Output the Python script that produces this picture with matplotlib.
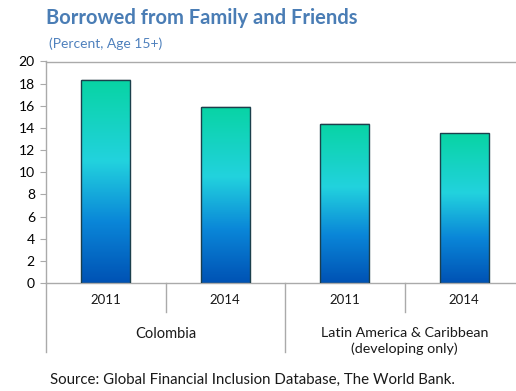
import matplotlib
matplotlib.use("Agg")
import matplotlib.pyplot as plt
import matplotlib.transforms as mtransforms
from matplotlib.colors import LinearSegmentedColormap
import numpy as np

# datos
years = ["2011", "2014", "2011", "2014"]
groups = ["Colombia", "Latin America & Caribbean\n(developing only)"]
values = [18.3, 15.9, 14.4, 13.5]
yticks = list(range(0, 21, 2))

plt.rcParams['font.family'] = ['Lato', 'DejaVu Sans']

fig = plt.figure(figsize=(5.16, 3.91), dpi=100)
ax = fig.add_axes([46 / 516, 108 / 391, 478 / 516, 221.5 / 391])

# gradiente azul -> cian -> verde
cmap = LinearSegmentedColormap.from_list("barra", [
    (0.0, "#0052B4"),
    (0.30, "#0A86D8"),
    (0.60, "#22D2DE"),
    (1.0, "#08D4A4"),
])

x = np.arange(len(values))
bars = ax.bar(x, values, width=0.41, facecolor="none", edgecolor="#1B3F4C",
              linewidth=1.0, zorder=3)
grad = np.linspace(0, 1, 256).reshape(-1, 1)
for b in bars:
    x0, w, h = b.get_x(), b.get_width(), b.get_height()
    # sombra leve
    sh = plt.Rectangle((x0 + 0.01, 0), w, h + 0.08, facecolor="#CCCCCC",
                       edgecolor="none", alpha=0.5, zorder=1)
    ax.add_patch(sh)
    im = ax.imshow(grad, extent=(x0, x0 + w, 0, h), origin="lower",
                   aspect="auto", cmap=cmap, zorder=2)
    im.set_clip_path(b)

ax.set_xlim(-0.5, 3.5)
ax.set_ylim(0, 20)
ax.set_yticks(yticks)
ax.set_xticks([])
ax.tick_params(axis="y", length=4, color="#AAAAAA", labelsize=10, pad=4)

for s in ["left", "top", "bottom"]:
    ax.spines[s].set_color("#AAAAAA")
    ax.spines[s].set_linewidth(1)
ax.spines["right"].set_visible(False)

# eje de categorias jerarquico
trans = mtransforms.blended_transform_factory(ax.transData, ax.transAxes)
short = -29 / 221.5
long_ = -69 / 221.5
for xd, ln in [(-0.5, long_), (0.5, short), (1.5, long_), (2.5, short), (3.5, long_)]:
    ax.plot([xd, xd], [0, ln], color="#AAAAAA", lw=1, transform=trans,
            clip_on=False)

for xi, yr in zip(x, years):
    ax.text(xi, -17 / 221.5, yr, transform=trans, ha="center", va="center",
            fontsize=9.5, color="#1A1A1A")
ax.text(0.5, -51 / 221.5, groups[0], transform=trans, ha="center",
        va="center", fontsize=10.5, color="#1A1A1A")
ax.text(2.5, -58 / 221.5, groups[1], transform=trans, ha="center",
        va="center", fontsize=10.3, color="#1A1A1A", linespacing=1.25)

fig.text(46 / 516, 1 - 18 / 391, "Borrowed from Family and Friends",
         fontsize=14.5, fontweight="bold", color="#4A7DB5", va="center")
fig.text(49 / 516, 1 - 44 / 391, "(Percent, Age 15+)", fontsize=10,
         color="#4F81BD", va="center")
fig.text(50 / 516, 1 - 380 / 391,
         "Source: Global Financial Inclusion Database, The World Bank.",
         fontsize=10.8, color="#1A1A1A", va="center")

fig.savefig("out.png", dpi=100)
